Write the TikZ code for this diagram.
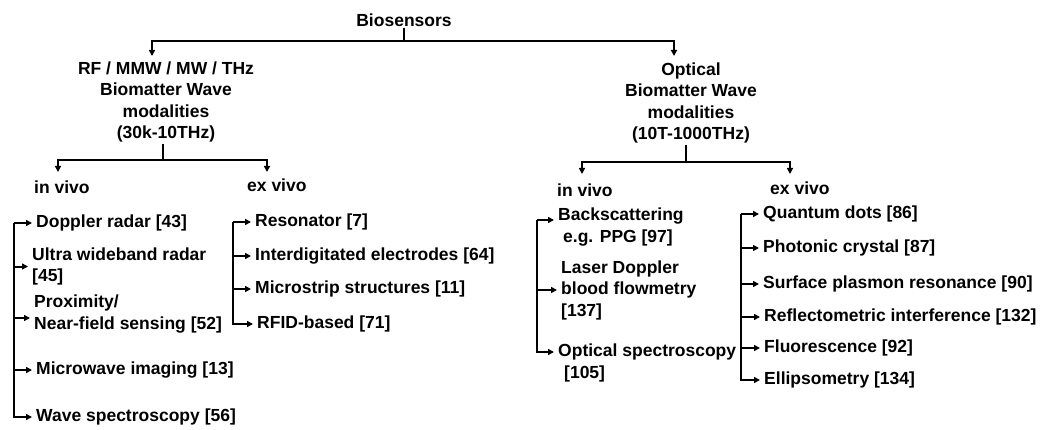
\documentclass[tikz,border=0pt]{standalone}
\usepackage{fontspec}
\setmainfont{Liberation Sans}
\usetikzlibrary{arrows.meta}
\begin{document}
\begin{tikzpicture}[x=1pt,y=-1pt,
  lbl/.style={font=\bfseries\fontsize{17.5}{21.5}\selectfont, inner sep=1pt},
  item/.style={lbl, anchor=west, align=left, inner xsep=4pt},
  head/.style={lbl, align=center},
  ln/.style={line width=2pt},
  arr/.style={ln, -{Triangle[length=6pt,width=6pt]}}]
\useasboundingbox[fill=white] (0,0) rectangle (1064,430);

% top
\node[lbl] (bio) at (404,20) {Biosensors};
\coordinate (bj) at (404,41);
\coordinate (rfin) at (152,56);
\coordinate (opin) at (674,56);
\draw[ln] (bio.south) -- (bj);
\draw[arr] (bj) -| (rfin);
\draw[arr] (bj) -| (opin);

% headings
\node[head] (rf) at (166,102) {RF / MMW / MW / THz\\Biomatter Wave\\modalities\\(30k-10THz)};
\node[head] (op) at (691,103) {Optical\\Biomatter Wave\\modalities\\(10T-1000THz)};

% left split
\coordinate (lj) at (163,160);
\coordinate (ivLin) at (58,172);
\coordinate (evLin) at (267,172);
\draw[ln] (lj |- rf.south) -- (lj);
\draw[arr] (lj) -| (ivLin);
\draw[arr] (lj) -| (evLin);
\node[item] (ivL) at (30,187) {in vivo};
\node[item] (evL) at (243,185) {ex vivo};

% right split
\coordinate (rj) at (686,162);
\coordinate (ivRin) at (582,174);
\coordinate (evRin) at (790,174);
\draw[ln] (rj |- op.south) -- (rj);
\draw[arr] (rj) -| (ivRin);
\draw[arr] (rj) -| (evRin);
\node[item] (ivR) at (553,190) {in vivo};
\node[item] (evR) at (766,188) {ex vivo};

% left in vivo list
\coordinate (t1) at (14,223);
\node[item] (dr) at (32,223) {Doppler radar [43]};
\node[item] (uw) at (28,266.5) {Ultra wideband radar\\{[45]}};
\node[item] (px) at (30,314) {Proximity/\\Near-field sensing [52]};
\node[item] (mi) at (32,370) {Microwave imaging [13]};
\node[item] (ws) at (32,417) {Wave spectroscopy [56]};
\draw[arr] (t1) -- (dr.west);
\draw[arr] (t1) |- (uw.west);
\draw[arr] (t1) |- ([yshift=-4pt]px.west);
\draw[arr] (t1) |- (mi.west);
\draw[arr] (t1) |- (ws.west);

% left ex vivo list
\coordinate (t2) at (233,222);
\node[item] (rs) at (251,222) {Resonator [7]};
\node[item] (ie) at (251,256) {Interdigitated electrodes [64]};
\node[item] (ms) at (251,289) {Microstrip structures [11]};
\node[item] (rfid) at (253,324) {RFID-based [71]};
\draw[arr] (t2) -- (rs.west);
\draw[arr] (t2) |- (ie.west);
\draw[arr] (t2) |- (ms.west);
\draw[arr] (t2) |- (rfid.west);

% right in vivo list
\coordinate (t3) at (537,220);
\node[item] (bs) at (554,227) {Backscattering\\\hspace{5pt}e.g. PPG [97]};
\node[item] (ld) at (557,290) {Laser Doppler\\blood flowmetry\\{[137]}};
\node[item] (os) at (554,363) {Optical spectroscopy\\\hspace{6pt}[105]};
\draw[arr] (t3) -- ([yshift=7pt]bs.west);
\draw[arr] (t3) |- (ld.west);
\draw[arr] (t3) |- ([yshift=11pt]os.west);

% right ex vivo list
\coordinate (t4) at (741,214);
\node[item] (qd) at (759,214) {Quantum dots [86]};
\node[item] (pc) at (759,248) {Photonic crystal [87]};
\node[item] (sp) at (759,284) {Surface plasmon resonance [90]};
\node[item] (ri) at (760,317) {Reflectometric interference [132]};
\node[item] (fl) at (760,348) {Fluorescence [92]};
\node[item] (el) at (760,380) {Ellipsometry [134]};
\draw[arr] (t4) -- (qd.west);
\draw[arr] (t4) |- (pc.west);
\draw[arr] (t4) |- (sp.west);
\draw[arr] (t4) |- (ri.west);
\draw[arr] (t4) |- (fl.west);
\draw[arr] (t4) |- (el.west);
\end{tikzpicture}
\end{document}
